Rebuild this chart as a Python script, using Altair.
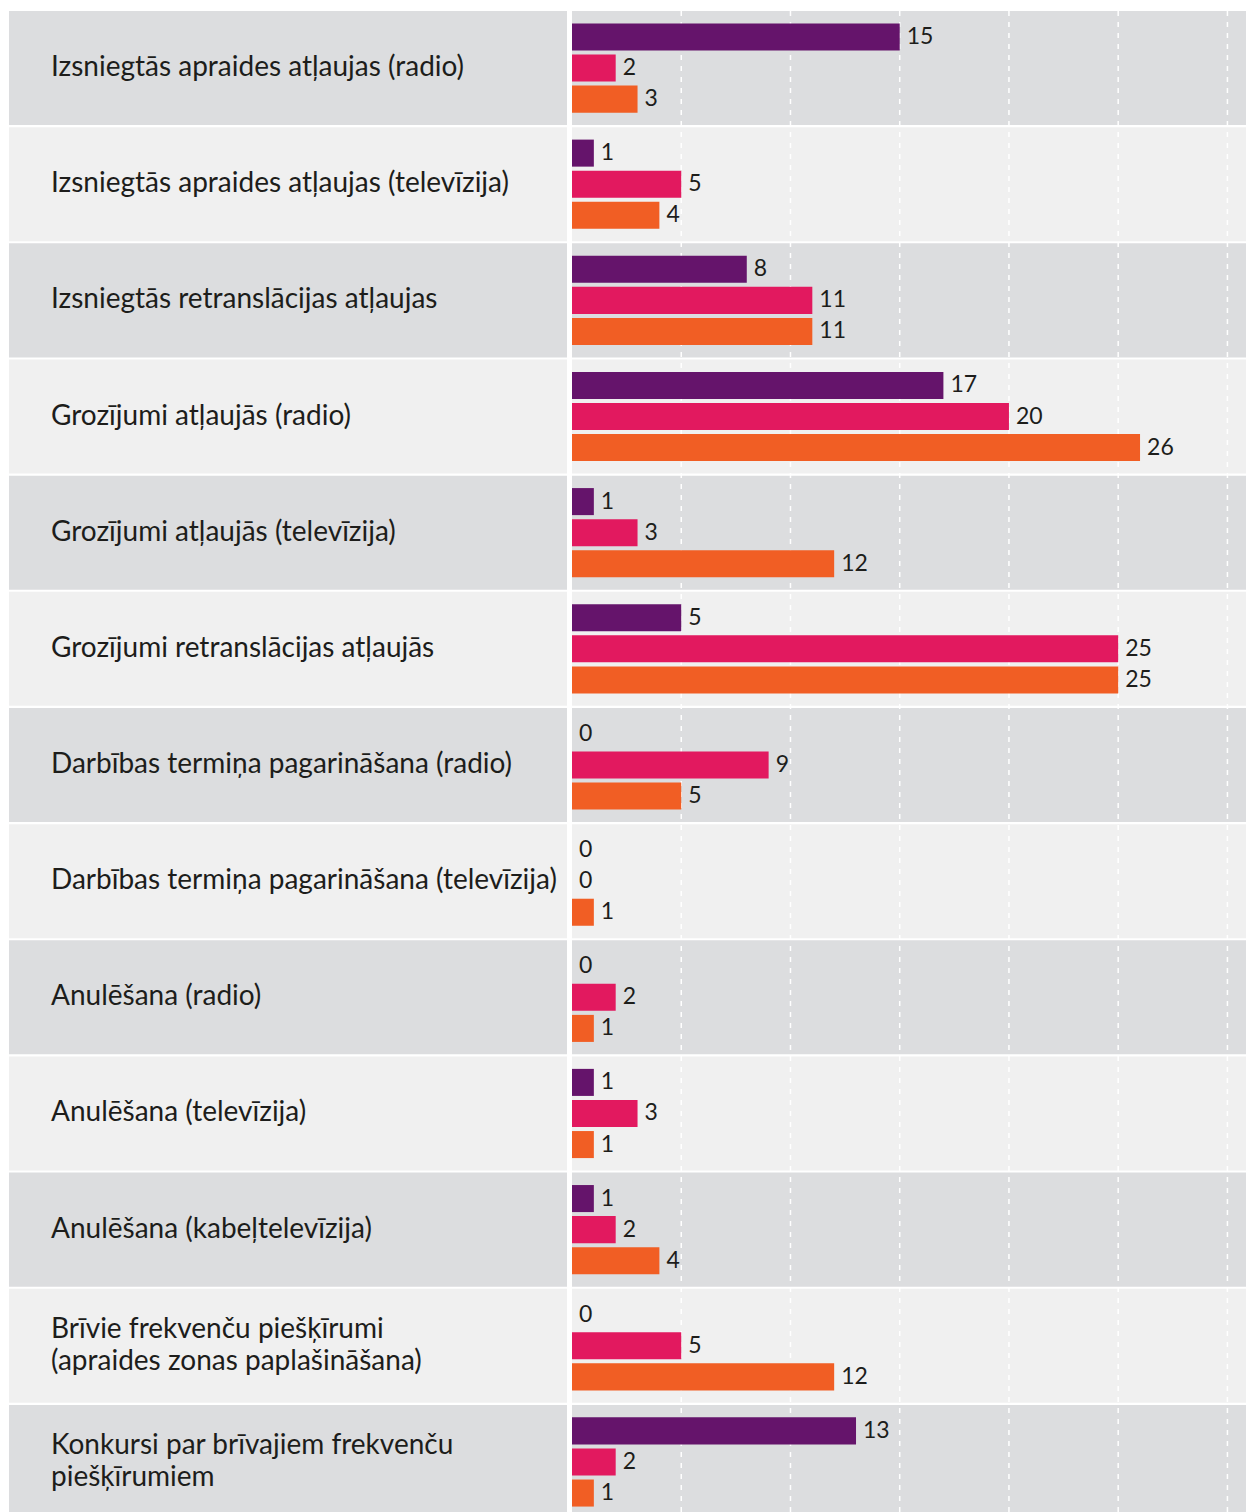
import altair as alt
import pandas as pd

categories = [
    "Izsniegtās apraides atļaujas (radio)",
    "Izsniegtās apraides atļaujas (televīzija)",
    "Izsniegtās retranslācijas atļaujas",
    "Grozījumi atļaujās (radio)",
    "Grozījumi atļaujās (televīzija)",
    "Grozījumi retranslācijas atļaujās",
    "Darbības termiņa pagarināšana (radio)",
    "Darbības termiņa pagarināšana (televīzija)",
    "Anulēšana (radio)",
    "Anulēšana (televīzija)",
    "Anulēšana (kabeļtelevīzija)",
    "Brīvie frekvenču piešķīrumi\n(apraides zonas paplašināšana)",
    "Konkursi par brīvajiem frekvenču\npiešķīrumiem",
]
series_names = ["Sērija 1", "Sērija 2", "Sērija 3"]
series_1 = [15, 1, 8, 17, 1, 5, 0, 0, 0, 1, 1, 0, 13]
series_2 = [2, 5, 11, 20, 3, 25, 9, 0, 2, 3, 2, 5, 2]
series_3 = [3, 4, 11, 26, 12, 25, 5, 1, 1, 1, 4, 12, 1]
grid_values = [5, 10, 15, 20, 25, 30]

FONT = "Lato"
TEXT_COLOR = "#1d1d1b"
BAR_COLORS = ["#65146b", "#e2195f", "#f15e24"]
ROW_COLORS = ["#dcdddf", "#f0f0f0"]
H = 1508
LEFT_W = 558
RIGHT_W = 674

rows_df = pd.DataFrame({
    "cat": categories,
    "shade": ["dark" if i % 2 == 0 else "light" for i in range(len(categories))],
    "lines": [c.count("\n") + 1 for c in categories],
})

long_rows = []
for name, vals in zip(series_names, [series_1, series_2, series_3]):
    for c, v in zip(categories, vals):
        long_rows.append({"cat": c, "series": name, "value": v})
bars_df = pd.DataFrame(long_rows)
grid_df = pd.DataFrame({"t": grid_values})

y_enc = alt.Y("cat:N", sort=categories, axis=None,
              scale=alt.Scale(paddingInner=0.018, paddingOuter=0))
fill_enc = alt.Fill("shade:N", scale=alt.Scale(domain=["dark", "light"], range=ROW_COLORS), legend=None)
x_scale = alt.Scale(domain=[0, 30.85], nice=False, zero=True)

# Left panel: labels
left_bg = alt.Chart(rows_df).mark_rect().encode(
    y=y_enc, x=alt.value(0), x2=alt.value(LEFT_W), fill=fill_enc
)
text_style = dict(align="left", baseline="middle", font=FONT, fontSize=28, color=TEXT_COLOR,
                  lineBreak="\n", lineHeight=32)
left_text_1 = alt.Chart(rows_df).transform_filter("datum.lines == 1").mark_text(
    **text_style
).encode(y=y_enc, x=alt.value(42), text="cat:N")
left_text_2 = alt.Chart(rows_df).transform_filter("datum.lines == 2").mark_text(
    dy=-16, **text_style
).encode(y=y_enc, x=alt.value(42), text="cat:N")
left = alt.layer(left_bg, left_text_1, left_text_2).properties(width=LEFT_W, height=H)

# Right panel: bars
right_bg = alt.Chart(rows_df).mark_rect().encode(
    y=y_enc, x=alt.value(0), x2=alt.value(RIGHT_W), fill=fill_enc
)
grid = alt.Chart(grid_df).mark_rule(color="white", strokeDash=[5, 6], strokeWidth=1.5).encode(
    x=alt.X("t:Q", scale=x_scale, axis=None), y=alt.value(0), y2=alt.value(H)
)
yoff = alt.YOffset("series:N", sort=series_names,
                   scale=alt.Scale(paddingInner=0.13, paddingOuter=0.4))
bars = alt.Chart(bars_df).mark_bar().encode(
    x=alt.X("value:Q", scale=x_scale, axis=None),
    y=y_enc,
    yOffset=yoff,
    color=alt.Color("series:N", scale=alt.Scale(domain=series_names, range=BAR_COLORS), legend=None),
)
labels = alt.Chart(bars_df).mark_text(
    align="left", baseline="middle", dx=7, font=FONT, fontSize=23, color=TEXT_COLOR
).encode(
    x=alt.X("value:Q", scale=x_scale, axis=None),
    y=y_enc,
    yOffset=yoff,
    text="value:Q",
)
right = alt.layer(right_bg, grid, bars, labels).properties(width=RIGHT_W, height=H)

chart = alt.hconcat(left, right, spacing=5).properties(
    padding={"left": 9, "top": 10, "right": 0, "bottom": -6},
    background="white",
).configure_view(stroke=None)

chart.save("out.html", embed_options={"renderer": "svg", "actions": False})
